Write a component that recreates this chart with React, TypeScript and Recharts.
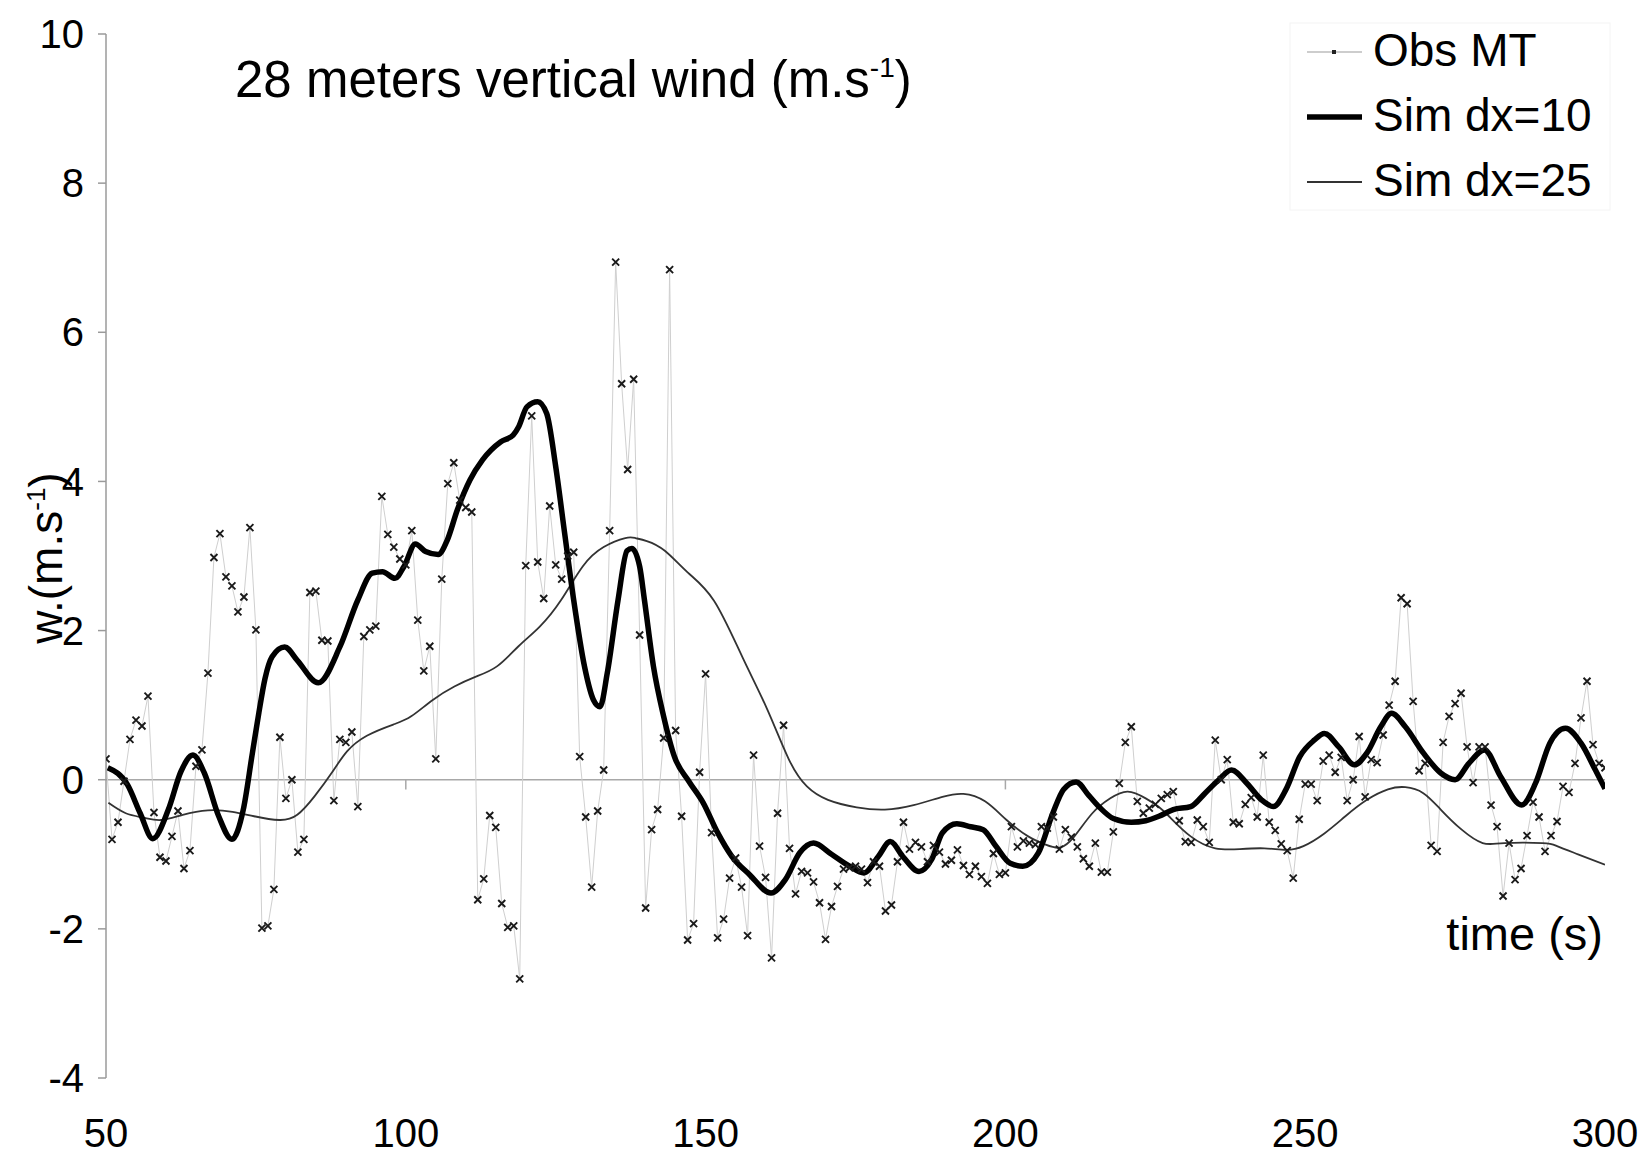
import React from 'react'
import { LineChart, Line, XAxis, YAxis, ReferenceLine } from 'recharts'

// observed vertical wind, one sample per second starting at t = 50 s
const obsStart = 50
const obsValues = [
  0.28, -0.8, -0.57, -0.02, 0.54, 0.8, 0.72, 1.12, -0.44, -1.04,
  -1.09, -0.76, -0.42, -1.19, -0.95, 0.18, 0.4, 1.43, 2.98, 3.3,
  2.72, 2.6, 2.25, 2.45, 3.38, 2.01, -1.99, -1.96, -1.47, 0.57,
  -0.25, 0.0, -0.97, -0.8, 2.51, 2.53, 1.87, 1.86, -0.28, 0.54,
  0.5, 0.64, -0.36, 1.92, 2.01, 2.06, 3.8, 3.29, 3.12, 2.96,
  2.88, 3.34, 2.14, 1.46, 1.79, 0.28, 2.69, 3.97, 4.25, 3.75,
  3.65, 3.59, -1.61, -1.33, -0.48, -0.64, -1.66, -1.98, -1.96, -2.67,
  2.87, 4.88, 2.92, 2.43, 3.67, 2.88, 2.69, 3.0, 3.05, 0.31,
  -0.5, -1.44, -0.42, 0.13, 3.34, 6.94, 5.31, 4.16, 5.37, 1.94,
  -1.72, -0.67, -0.4, 0.56, 6.84, 0.66, -0.49, -2.15, -1.93, 0.1,
  1.42, -0.71, -2.12, -1.87, -1.32, -1.05, -1.44, -2.09, 0.33, -0.89,
  -1.31, -2.39, -0.45, 0.73, -0.92, -1.53, -1.23, -1.25, -1.37, -1.65,
  -2.14, -1.7, -1.43, -1.2, -1.18, -1.16, -1.2, -1.38, -1.1, -1.16,
  -1.76, -1.68, -1.1, -0.57, -0.93, -0.84, -0.9, -1.1, -0.88, -0.97,
  -1.13, -1.08, -0.94, -1.15, -1.27, -1.16, -1.3, -1.39, -0.99, -1.27,
  -1.25, -0.63, -0.9, -0.82, -0.85, -0.87, -0.63, -0.65, -0.5, -0.93,
  -0.67, -0.77, -0.9, -1.06, -1.16, -0.85, -1.24, -1.24, -0.7, -0.05,
  0.5, 0.71, -0.29, -0.45, -0.38, -0.33, -0.25, -0.2, -0.16, -0.55,
  -0.83, -0.84, -0.54, -0.63, -0.84, 0.53, 0.0, 0.27, -0.57, -0.59,
  -0.33, -0.24, -0.5, 0.33, -0.57, -0.68, -0.86, -0.95, -1.32, -0.53,
  -0.06, -0.06, -0.28, 0.25, 0.33, 0.1, 0.3, -0.28, 0.0, 0.58,
  -0.23, 0.27, 0.23, 0.6, 1.0, 1.32, 2.44, 2.36, 1.05, 0.12,
  0.22, -0.88, -0.96, 0.5, 0.85, 1.02, 1.16, 0.44, -0.04, 0.44,
  0.44, -0.34, -0.63, -1.56, -0.85, -1.34, -1.19, -0.75, -0.3, -0.5,
  -0.96, -0.75, -0.56, -0.09, -0.17, 0.22, 0.83, 1.32, 0.47, 0.22,
  0.16,
]

// simulation dx=10 (thick curve)
const sim10Times = [
  50.3, 53.6, 55.7, 57.8, 60.4, 62.5, 64.5, 66.4, 68.8, 71.0,
  72.9, 74.4, 75.5, 76.5, 77.7, 79.8, 81.9, 85.4, 89.0, 92.0,
  94.4, 96.1, 98.2, 99.7, 101.6, 103.3, 105.4, 106.9, 108.6, 110.7,
  112.8, 115.8, 117.9, 118.8, 120.2, 122.0, 123.5, 125.0, 126.5, 128.0,
  129.8, 131.3, 132.4, 133.6, 135.4, 136.9, 137.7, 139.0, 139.8, 141.3,
  143.0, 144.8, 147.2, 149.6, 152.0, 154.4, 157.3, 160.9, 163.3, 165.7,
  168.0, 171.0, 174.0, 176.4, 178.8, 180.8, 182.9, 185.6, 187.7, 189.5,
  191.9, 194.2, 196.3, 198.4, 200.8, 202.9, 205.5, 207.9, 209.7, 211.8,
  213.9, 215.7, 218.0, 221.0, 223.4, 225.6, 228.0, 230.9, 233.3, 235.6,
  237.7, 240.3, 242.7, 244.7, 246.8, 249.1, 251.5, 253.2, 255.6, 258.2,
  260.3, 262.6, 264.4, 266.7, 269.7, 272.6, 275.0, 277.3, 279.9, 282.6,
  286.1, 288.4, 290.8, 293.4, 296.0, 298.4, 300.0,
]
const sim10Values = [
  0.16, -0.07, -0.45, -0.79, -0.4, 0.11, 0.33, 0.09, -0.49, -0.8,
  -0.4, 0.35, 0.9, 1.35, 1.65, 1.78, 1.6, 1.3, 1.78, 2.41,
  2.77, 2.79, 2.7, 2.86, 3.16, 3.06, 3.02, 3.21, 3.62, 4.02,
  4.29, 4.53, 4.62, 4.73, 5.0, 5.07, 4.91, 4.2, 3.3, 2.41,
  1.52, 1.07, 0.98, 1.43, 2.41, 3.07, 3.1, 2.86, 2.41, 1.52,
  0.85, 0.31, -0.02, -0.31, -0.71, -1.03, -1.27, -1.52, -1.34, -0.98,
  -0.85, -1.0, -1.16, -1.25, -1.03, -0.83, -1.03, -1.23, -1.07, -0.71,
  -0.59, -0.63, -0.67, -0.89, -1.12, -1.16, -0.98, -0.45, -0.13, -0.03,
  -0.21, -0.37, -0.52, -0.57, -0.55, -0.49, -0.4, -0.36, -0.18, 0.0,
  0.13, -0.05, -0.27, -0.36, -0.13, 0.31, 0.53, 0.62, 0.44, 0.2,
  0.36, 0.71, 0.89, 0.71, 0.36, 0.09, 0.0, 0.22, 0.4, 0.04,
  -0.34, -0.05, 0.49, 0.69, 0.49, 0.13, -0.12,
]

// simulation dx=25 (thin curve)
const sim25Times = [
  50.4, 53.3, 56.3, 59.2, 62.8, 67.0, 71.1, 74.7, 78.9, 81.9,
  84.8, 87.8, 90.2, 93.5, 97.9, 100.9, 104.5, 108.1, 111.6, 115.2,
  118.8, 122.3, 125.9, 129.5, 133.0, 136.6, 138.3, 140.2, 143.2, 147.0,
  151.4, 156.1, 160.3, 163.9, 166.9, 170.4, 175.2, 179.9, 184.7, 189.5,
  193.0, 196.6, 200.2, 203.8, 206.7, 209.1, 211.5, 214.5, 217.5, 220.4,
  223.4, 225.5, 227.4, 230.9, 235.0, 239.1, 243.2, 246.8, 249.7, 253.2,
  256.7, 260.3, 263.8, 266.7, 269.7, 272.6, 276.1, 279.6, 283.2, 289.6,
  292.0, 295.5, 300.0,
]
const sim25Values = [
  -0.31, -0.45, -0.51, -0.54, -0.47, -0.41, -0.43, -0.49, -0.54, -0.47,
  -0.22, 0.11, 0.38, 0.59, 0.74, 0.85, 1.07, 1.25, 1.38, 1.52,
  1.79, 2.05, 2.41, 2.86, 3.12, 3.24, 3.24, 3.2, 3.07, 2.78,
  2.4, 1.65, 0.94, 0.27, -0.09, -0.27, -0.37, -0.4, -0.34, -0.23,
  -0.19, -0.29, -0.54, -0.76, -0.87, -0.91, -0.76, -0.45, -0.25, -0.16,
  -0.25, -0.36, -0.5, -0.76, -0.92, -0.93, -0.92, -0.94, -0.89, -0.72,
  -0.49, -0.27, -0.13, -0.1, -0.18, -0.4, -0.67, -0.85, -0.85, -0.85,
  -0.89, -1.0, -1.14,
]

const xTicks = [50, 100, 150, 200, 250, 300]
const yTicks = [-4, -2, 0, 2, 4, 6, 8, 10]
const zeroLineTicks = [100, 200]

const legendItems = [
  { label: 'Obs MT', color: '#bdbdbd', width: 1.5, marker: true },
  { label: 'Sim dx=10', color: '#000', width: 5.5, marker: false },
  { label: 'Sim dx=25', color: '#333', width: 2, marker: false },
]

const obsData = obsValues.map((v, i) => ({ t: obsStart + i, v }))
const sim10Data = sim10Times.map((t, i) => ({ t, v: sim10Values[i] }))
const sim25Data = sim25Times.map((t, i) => ({ t, v: sim25Values[i] }))

const FONT = '"Liberation Sans", Arial, Helvetica, sans-serif'
const W = 1652
const H = 1160

const ObsDot = (props: any) => {
  const { cx, cy, index } = props
  if (cx == null || cy == null) return <g key={`d${index}`} />
  const s = 3.5
  return (
    <path
      key={`d${index}`}
      d={`M${cx - s},${cy - s}L${cx + s},${cy + s}M${cx - s},${cy + s}L${cx + s},${cy - s}`}
      stroke="#1a1a1a"
      strokeWidth={1.9}
      fill="none"
    />
  )
}

function Overlay() {
  return (
    <svg
      width={W}
      height={H}
      style={{ position: 'absolute', left: 0, top: 0, pointerEvents: 'none' }}
      fontFamily={FONT}
    >
      <text x={235} y={97} fontSize={51} fill="#000">
        28 meters vertical wind (m.s
        <tspan dy={-20} fontSize={28}>-1</tspan>
        <tspan dy={20}>)</tspan>
      </text>

      <text transform="translate(62,558) rotate(-90)" textAnchor="middle" fontSize={46} fill="#000">
        w.(m.s
        <tspan dy={-17} fontSize={26}>-1</tspan>
        <tspan dy={17}>)</tspan>
      </text>

      <text x={1603} y={950} textAnchor="end" fontSize={47} fill="#000">
        time (s)
      </text>

      <rect x={1290} y={23} width={320} height={187} fill="#fff" stroke="#f4f4f4" />
      {legendItems.map((it, i) => {
        const cy = 52 + i * 65
        return (
          <g key={it.label}>
            <line x1={1307} x2={1362} y1={cy} y2={cy} stroke={it.color} strokeWidth={it.width} />
            {it.marker && <rect x={1332} y={cy - 2} width={4} height={4} fill="#222" />}
            <text x={1373} y={cy + 14} fontSize={46} fill="#000">
              {it.label}
            </text>
          </g>
        )
      })}
    </svg>
  )
}

export default function App() {
  return (
    <div style={{ position: 'relative', width: W, height: H, background: '#fff', fontFamily: FONT }}>
      <style>{'body{margin:0}'}</style>
      <LineChart width={W} height={H} margin={{ top: 34, right: 47, bottom: 0, left: 0 }}>
        <XAxis
          dataKey="t"
          type="number"
          domain={[50, 300]}
          ticks={xTicks}
          allowDataOverflow
          axisLine={false}
          tickLine={false}
          tickSize={0}
          tickMargin={41}
          height={82}
          tick={{ fontSize: 40, fill: '#000', fontFamily: FONT }}
        />
        <YAxis
          type="number"
          domain={[-4, 10]}
          ticks={yTicks}
          allowDataOverflow
          width={106}
          axisLine={{ stroke: '#9a9a9a', strokeWidth: 1.5 }}
          tickLine={{ stroke: '#9a9a9a', strokeWidth: 1.5 }}
          tickSize={8}
          tickMargin={14}
          tick={{ fontSize: 40, fill: '#000', fontFamily: FONT }}
        />
        <ReferenceLine y={0} stroke="#a8a8a8" strokeWidth={1.5} />
        {zeroLineTicks.map((x) => (
          <ReferenceLine
            key={x}
            segment={[{ x, y: 0 }, { x, y: -0.13 }]}
            stroke="#a8a8a8"
            strokeWidth={1.5}
          />
        ))}
        <Line
          data={obsData}
          dataKey="v"
          type="linear"
          stroke="#cfcfcf"
          strokeWidth={1}
          dot={ObsDot}
          activeDot={false}
          isAnimationActive={false}
        />
        <Line
          data={sim25Data}
          dataKey="v"
          type="natural"
          stroke="#333"
          strokeWidth={1.8}
          dot={false}
          activeDot={false}
          isAnimationActive={false}
        />
        <Line
          data={sim10Data}
          dataKey="v"
          type="monotone"
          stroke="#000"
          strokeWidth={5.5}
          dot={false}
          activeDot={false}
          isAnimationActive={false}
        />
      </LineChart>
      <Overlay />
    </div>
  )
}
